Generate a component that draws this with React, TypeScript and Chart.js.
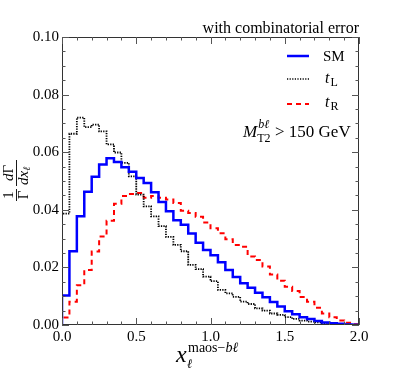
import React, { useEffect, useRef } from "react";
import { Chart, registerables } from "chart.js";

Chart.register(...registerables);

// Left edges of the 40 histogram bins (bin width 0.05), plus the last right edge
const binEdges = [
  0.0, 0.05, 0.1, 0.15, 0.2, 0.25, 0.3, 0.35, 0.4, 0.45,
  0.5, 0.55, 0.6, 0.65, 0.7, 0.75, 0.8, 0.85, 0.9, 0.95,
  1.0, 1.05, 1.1, 1.15, 1.2, 1.25, 1.3, 1.35, 1.4, 1.45,
  1.5, 1.55, 1.6, 1.65, 1.7, 1.75, 1.8, 1.85, 1.9, 1.95, 2.0,
];

const smValues = [
  0.0102, 0.0256, 0.0378, 0.0463, 0.0515, 0.0557, 0.0579, 0.0566, 0.0548, 0.0532,
  0.051, 0.0493, 0.0461, 0.0427, 0.0395, 0.0364, 0.0348, 0.0318, 0.0286, 0.026,
  0.0242, 0.0218, 0.0191, 0.0167, 0.0145, 0.0129, 0.0112, 0.0096, 0.008, 0.0064,
  0.0048, 0.0037, 0.0027, 0.0021, 0.0014, 0.0009, 0.0006, 0.0004, 0.0002, 0.0001,
];

const tLValues = [
  0.0387, 0.0664, 0.072, 0.0687, 0.0696, 0.0672, 0.0627, 0.0599, 0.0563, 0.0516,
  0.0453, 0.0412, 0.0377, 0.0343, 0.0306, 0.0278, 0.0256, 0.0209, 0.0194, 0.0168,
  0.0152, 0.0122, 0.011, 0.0098, 0.0081, 0.0073, 0.0058, 0.005, 0.004, 0.0035,
  0.0027, 0.0021, 0.0015, 0.0012, 0.0009, 0.0006, 0.0004, 0.0002, 0.0001, 0.0,
];

const tRValues = [
  0.0026, 0.0081, 0.0138, 0.0191, 0.0255, 0.0307, 0.0362, 0.0421, 0.0448, 0.0455,
  0.0458, 0.0442, 0.0448, 0.0442, 0.0436, 0.0424, 0.0397, 0.0389, 0.0376, 0.0356,
  0.0336, 0.0319, 0.0298, 0.0278, 0.0272, 0.0238, 0.0226, 0.0203, 0.0175, 0.0154,
  0.0133, 0.0118, 0.0097, 0.0081, 0.006, 0.004, 0.0027, 0.0016, 0.0008, 0.0003,
];

const xTicks = [0, 0.5, 1.0, 1.5, 2.0];
const yTicks = [0, 0.02, 0.04, 0.06, 0.08, 0.1];

const titleText = "with combinatorial error";
const cutLabel = "> 150 GeV";

const SERIF = '"Liberation Serif", "DejaVu Serif", serif';

function histPoints(values: number[]) {
  const pts: { x: number; y: number }[] = [{ x: binEdges[0], y: 0 }];
  values.forEach((v, i) => pts.push({ x: binEdges[i], y: v }));
  const last = values[values.length - 1];
  pts.push({ x: binEdges[binEdges.length - 1], y: last });
  pts.push({ x: binEdges[binEdges.length - 1], y: 0 });
  return pts;
}

type Run = { t: string; f: string; dy?: number; gap?: number };

function drawRuns(ctx: CanvasRenderingContext2D, x: number, y: number, runs: Run[]) {
  let cx = x;
  for (const r of runs) {
    ctx.font = r.f;
    cx += r.gap || 0;
    ctx.fillText(r.t, cx, y + (r.dy || 0));
    cx += ctx.measureText(r.t).width;
  }
  return cx;
}

const decorPlugin = {
  id: "decor",
  afterDraw(chart: any) {
    const ctx: CanvasRenderingContext2D = chart.ctx;
    const { left, right, top, bottom } = chart.chartArea;
    const xs = chart.scales.x;
    const ys = chart.scales.y;
    ctx.save();

    // frame
    ctx.strokeStyle = "#333";
    ctx.lineWidth = 1;
    ctx.strokeRect(left + 0.5, top + 0.5, right - left - 1, bottom - top - 1);

    // inward ticks
    ctx.strokeStyle = "#555";
    ctx.beginPath();
    for (let k = 0; k <= 20; k++) {
      const v = k * 0.1;
      const px = Math.round(xs.getPixelForValue(v)) + 0.5;
      const len = k % 5 === 0 ? 7 : 3.5;
      ctx.moveTo(px, bottom);
      ctx.lineTo(px, bottom - len);
      ctx.moveTo(px, top);
      ctx.lineTo(px, top + len);
    }
    for (let k = 0; k <= 20; k++) {
      const v = k * 0.005;
      const py = Math.round(ys.getPixelForValue(v)) + 0.5;
      const len = k % 4 === 0 ? 7 : 3.5;
      ctx.moveTo(left, py);
      ctx.lineTo(left + len, py);
      ctx.moveTo(right, py);
      ctx.lineTo(right - len, py);
    }
    ctx.stroke();

    ctx.fillStyle = "#000";
    ctx.textBaseline = "alphabetic";

    // title
    ctx.font = `16px ${SERIF}`;
    ctx.textAlign = "right";
    ctx.fillText(titleText, right, 33);
    ctx.textAlign = "left";

    // legend
    const legendItems = [
      { y: 56, color: "#0000ff", dash: [] as number[], w: 2.5 },
      { y: 79, color: "#000000", dash: [1.2, 1.4], w: 1.3 },
      { y: 104, color: "#ff0000", dash: [5, 4], w: 2 },
    ];
    for (const it of legendItems) {
      ctx.beginPath();
      ctx.strokeStyle = it.color;
      ctx.lineWidth = it.w;
      ctx.setLineDash(it.dash);
      ctx.moveTo(287, it.y);
      ctx.lineTo(309, it.y);
      ctx.stroke();
    }
    ctx.setLineDash([]);
    ctx.font = `15px ${SERIF}`;
    ctx.fillText("SM", 323, 61);
    drawRuns(ctx, 325, 83, [
      { t: "t", f: `italic 16px ${SERIF}` },
      { t: "L", f: `12px ${SERIF}`, dy: 3, gap: 1 },
    ]);
    drawRuns(ctx, 325, 107, [
      { t: "t", f: `italic 16px ${SERIF}` },
      { t: "R", f: `12px ${SERIF}`, dy: 3, gap: 1 },
    ]);

    // M_T2^{bl} > 150 GeV
    ctx.font = `italic 17px ${SERIF}`;
    ctx.fillText("M", 243, 137);
    const mW = ctx.measureText("M").width;
    ctx.font = `12px ${SERIF}`;
    ctx.fillText("T2", 243 + mW, 142);
    ctx.font = `italic 12px ${SERIF}`;
    ctx.fillText("bℓ", 243 + mW + 1, 128);
    ctx.font = `17px ${SERIF}`;
    ctx.fillText(cutLabel, 275, 137);

    // y-axis label (rotated fraction)
    ctx.save();
    ctx.translate(16, 181);
    ctx.rotate(-Math.PI / 2);
    ctx.font = `15px ${SERIF}`;
    ctx.textAlign = "center";
    ctx.fillText("1", -14, -3);
    ctx.fillText("Γ", -14, 12);
    ctx.lineWidth = 0.9;
    ctx.strokeStyle = "#000";
    ctx.beginPath();
    ctx.moveTo(-20, 0.5);
    ctx.lineTo(-8, 0.5);
    ctx.stroke();
    ctx.textAlign = "left";
    drawRuns(ctx, 0, -3, [
      { t: "d", f: `italic 15px ${SERIF}` },
      { t: "Γ", f: `15px ${SERIF}` },
    ]);
    drawRuns(ctx, -4, 12, [
      { t: "dx", f: `italic 15px ${SERIF}` },
      { t: "ℓ", f: `italic 10px ${SERIF}`, dy: 2 },
    ]);
    ctx.beginPath();
    ctx.moveTo(-5, 0.5);
    ctx.lineTo(21, 0.5);
    ctx.stroke();
    ctx.restore();

    // x-axis label
    ctx.font = `italic 24px ${SERIF}`;
    ctx.fillText("x", 176, 362);
    ctx.font = `italic 13px ${SERIF}`;
    ctx.fillText("ℓ", 187, 368);
    drawRuns(ctx, 188, 352, [
      { t: "maos", f: `14px ${SERIF}` },
      { t: "−", f: `14px ${SERIF}` },
      { t: "bℓ", f: `italic 14px ${SERIF}` },
    ]);

    ctx.restore();
  },
};

export default function App() {
  const ref = useRef<HTMLCanvasElement | null>(null);
  useEffect(() => {
    document.body.style.margin = "0";
    const canvas = ref.current;
    if (!canvas) return;
    const tickFont = { family: SERIF, size: 15 };
    const chart = new Chart(canvas, {
      type: "line",
      data: {
        datasets: [
          {
            label: "SM",
            data: histPoints(smValues),
            borderColor: "#0000ff",
            borderWidth: 2.5,
            stepped: "before",
            pointRadius: 0,
            fill: false,
          },
          {
            label: "tL",
            data: histPoints(tLValues),
            borderColor: "#000000",
            borderWidth: 1.8,
            borderDash: [1.3, 1.2],
            stepped: "before",
            pointRadius: 0,
            fill: false,
          },
          {
            label: "tR",
            data: histPoints(tRValues),
            borderColor: "#ff0000",
            borderWidth: 2,
            borderDash: [5, 4],
            stepped: "before",
            pointRadius: 0,
            fill: false,
          },
        ],
      },
      options: {
        animation: false,
        responsive: false,
        maintainAspectRatio: false,
        layout: { padding: { left: 0, right: 40, top: 37, bottom: 0 } },
        plugins: { legend: { display: false }, tooltip: { enabled: false }, title: { display: false } },
        scales: {
          x: {
            type: "linear",
            min: 0,
            max: 2,
            afterFit: (s: any) => {
              s.height = 47;
            },
            afterBuildTicks: (s: any) => {
              s.ticks = xTicks.map((v) => ({ value: v }));
            },
            grid: { display: false, drawTicks: false },
            border: { display: false },
            ticks: {
              padding: 3,
              font: tickFont,
              color: "#000",
              maxRotation: 0,
              autoSkip: false,
              callback: (v: any) => Number(v).toFixed(1),
            },
          },
          y: {
            type: "linear",
            min: 0,
            max: 0.1,
            afterFit: (s: any) => {
              s.width = 62;
            },
            afterBuildTicks: (s: any) => {
              s.ticks = yTicks.map((v) => ({ value: v }));
            },
            grid: { display: false, drawTicks: false },
            border: { display: false },
            ticks: {
              padding: 3,
              font: tickFont,
              color: "#000",
              autoSkip: false,
              callback: (v: any) => Number(v).toFixed(2),
            },
          },
        },
      } as any,
      plugins: [decorPlugin],
    });
    return () => chart.destroy();
  }, []);
  return <canvas ref={ref} width={399} height={372} style={{ display: "block" }} />;
}
